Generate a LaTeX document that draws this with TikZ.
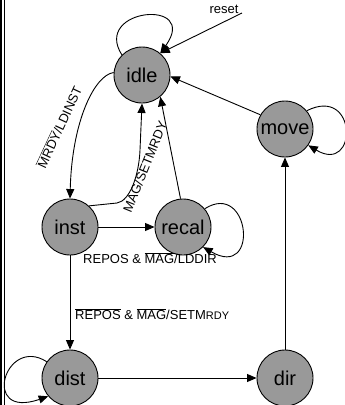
\documentclass[tikz,border=0pt]{standalone}
\usepackage{fontspec}
\setmainfont{Liberation Sans}
\usetikzlibrary{arrows.meta}
\definecolor{stategray}{RGB}{153,153,153}
\newcommand{\ovl}[1]{$\overline{\mbox{#1}}$}
\begin{document}
\begin{tikzpicture}[x=1pt,y=-1pt,
  state/.style={circle,draw=black,line width=0.9pt,fill=stategray,minimum size=56pt,inner sep=0pt,font=\fontsize{20}{24}\selectfont},
  arr/.style={draw,line width=0.9pt,-{Triangle[length=9.5pt,width=8pt]}},
  lbl/.style={font=\fontsize{13}{15}\selectfont,inner sep=0pt}]
\useasboundingbox (0,0) rectangle (345,405);
\fill[white] (0,0) rectangle (345,405);
% left border
\draw[line width=1.5pt] (1,0) -- (1,405);
\draw[line width=1pt] (4.2,0) -- (4.2,405);
% states
\node[state] (idle)  at (142,75)  {idle};
\node[state] (move)  at (285,129) {move};
\node[state] (inst)  at (70,227)  {inst};
\node[state] (recal) at (183,227) {recal};
\node[state] (dist)  at (70,378)  {dist};
\node[state] (dir)   at (285,378) {dir};
% reset
\coordinate (rs) at (242,13);
\node[lbl] (reset) at (224,9) {reset};
\draw[arr] (rs) -- (idle.50);
% self loops
\draw[arr] (idle.135) .. controls (92,8) and (200,-2) .. (idle.50);
\draw[arr] (move.40) .. controls (358,85) and (358,175) .. (move.-35);
\draw[arr] (recal.40) .. controls (250,180) and (260,280) .. (recal.-45);
\draw[arr] (dist.145) .. controls (5,335) and (-20,420) .. (dist.220);
% transitions
\draw[arr] (move.150) -- (idle.-3);
\draw[arr] (idle.175) .. controls (95,75) and (72,120) .. (inst.north);
\draw[arr] (inst.48) -- (117,203) .. controls (130,201) and (139,175) .. (140,150) -- (idle.south);
\draw[arr] (recal.95) -- (idle.-50);
\draw[arr] (inst) -- (recal);
\draw[arr] (inst) -- (dist);
\draw[arr] (dist) -- (dir);
\draw[arr] (dir) -- (move);
% labels
\node[lbl,rotate=65] (l1) at (59,127) {\ovl{MRDY}/LDINST};
\node[lbl,rotate=68] (l2) at (145,167) {MAG/SETMRDY};
\node[lbl,anchor=base west] (l3) at (83,263.5) {REPOS \& \ovl{MAG}/LDDIR};
\node[lbl,anchor=base west] (l4) at (75,319.5) {\ovl{REPOS} \& \ovl{MAG}/SETM{\fontsize{11}{13}\selectfont RDY}};
\end{tikzpicture}
\end{document}
